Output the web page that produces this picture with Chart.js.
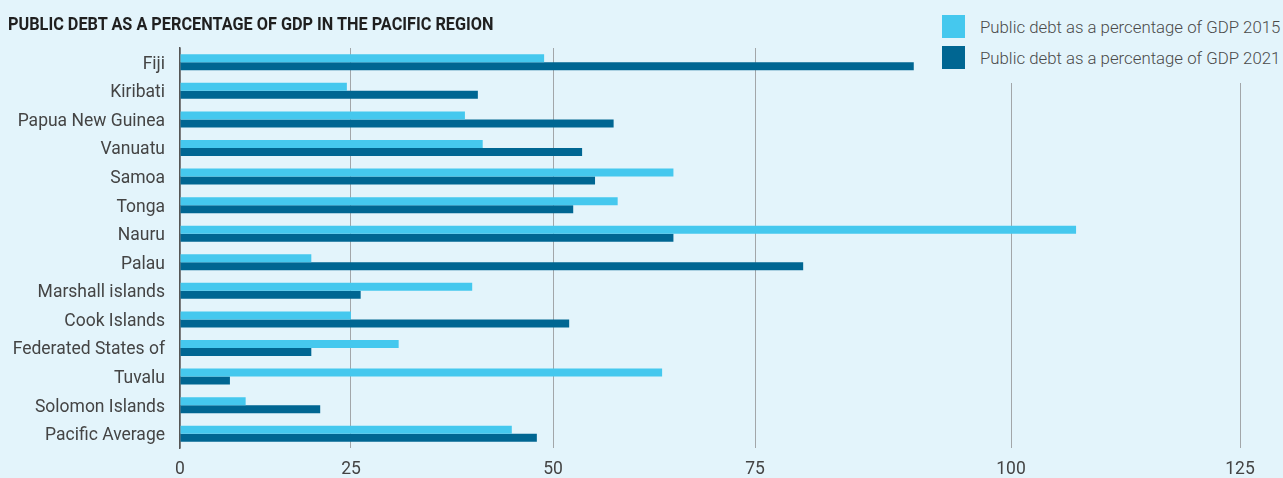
<!DOCTYPE html>
<html lang="en">
<head>
  <meta charset="UTF-8">
  <title>Public debt in the Pacific region</title>
  <style>
    body {
      margin: 0;
      background: #e3f4fb;
    }
    .wrap {
      position: relative;
      width: 1283px;
      height: 478px;
    }
    h1 {
      position: absolute;
      left: 8px;
      top: 12px;
      margin: 0;
      font-family: Roboto, sans-serif;
      font-weight: 700;
      font-size: 19px;
      line-height: 24px;
      color: #1f1f1f;
      white-space: nowrap;
      transform: scaleX(0.856);
      transform-origin: left center;
    }
    #legend {
      position: absolute;
      left: 940px;
      top: 0;
      width: 343px;
      height: 83px;
      padding-top: 15px;
      box-sizing: border-box;
      background: #e3f4fb;
      display: flex;
      flex-direction: column;
      gap: 8px;
      font-family: Roboto, sans-serif;
      font-weight: 300;
      font-size: 16.8px;
      color: #4a4a4a;
      white-space: nowrap;
    }
    .item {
      display: flex;
      align-items: center;
      height: 23px;
      padding-left: 2px;
    }
    .swatch {
      width: 23px;
      height: 23px;
      margin-right: 15px;
      flex: none;
    }
  </style>
</head>
<body>
  <div class="wrap">
    <canvas id="debt-chart" width="1283" height="478"></canvas>
    <h1>PUBLIC DEBT AS A PERCENTAGE OF GDP IN THE PACIFIC REGION</h1>
    <div id="legend"></div>
  </div>
  <script src="https://cdn.jsdelivr.net/npm/chart.js@4.4.9/dist/chart.umd.min.js"></script>
  <script>
    const countries = [
      'Fiji', 'Kiribati', 'Papua New Guinea', 'Vanuatu', 'Samoa', 'Tonga', 'Nauru',
      'Palau', 'Marshall islands', 'Cook Islands', 'Federated States of', 'Tuvalu',
      'Solomon Islands', 'Pacific Average'
    ]
    const debt2015 = [48.9, 24.4, 39.1, 41.3, 64.9, 58.0, 107.1, 19.2, 40.0, 25.0, 30.9, 63.5, 9.6, 44.9]
    const debt2021 = [90.5, 40.7, 57.5, 53.6, 55.2, 52.5, 64.9, 79.7, 26.2, 52.0, 19.2, 7.3, 20.5, 48.0]
    const seriesLabels = ['Public debt as a percentage of GDP 2015', 'Public debt as a percentage of GDP 2021']
    const tickValues = [0, 25, 50, 75, 100, 125]

    // the value axis is not evenly spaced: each tick sits at its own share of the axis length
    const tickStops = [0, 0.1613, 0.3519, 0.5425, 0.7840, 1]

    const LIGHT = '#45c8ee'
    const DARK = '#006692'
    const FONT = 'Roboto, sans-serif'

    function valueToDecimal(v) {
      for (let i = 1; i < tickValues.length; i++) {
        if (v <= tickValues[i] || i === tickValues.length - 1) {
          const a = tickValues[i - 1], b = tickValues[i]
          const t = (v - a) / (b - a)
          return tickStops[i - 1] + t * (tickStops[i] - tickStops[i - 1])
        }
      }
      return 0
    }

    function decimalToValue(d) {
      for (let i = 1; i < tickStops.length; i++) {
        if (d <= tickStops[i] || i === tickStops.length - 1) {
          const t = (d - tickStops[i - 1]) / (tickStops[i] - tickStops[i - 1])
          return tickValues[i - 1] + t * (tickValues[i] - tickValues[i - 1])
        }
      }
      return 0
    }

    class SegmentedScale extends Chart.LinearScale {
      getPixelForValue(value) {
        if (value === null || isNaN(value)) return NaN
        return this.getPixelForDecimal(valueToDecimal(value))
      }
      getValueForPixel(pixel) {
        return decimalToValue(this.getDecimalForPixel(pixel))
      }
    }
    SegmentedScale.id = 'segmented'
    SegmentedScale.defaults = Chart.LinearScale.defaults
    Chart.register(SegmentedScale)

    const colors = [LIGHT, DARK]

    new Chart(document.getElementById('debt-chart'), {
      type: 'bar',
      data: {
        labels: countries,
        datasets: [
          { label: seriesLabels[0], data: debt2015, backgroundColor: LIGHT },
          { label: seriesLabels[1], data: debt2021, backgroundColor: DARK }
        ]
      },
      options: {
        indexAxis: 'y',
        responsive: false,
        devicePixelRatio: 1,
        animation: false,
        categoryPercentage: 0.56,
        barPercentage: 1,
        layout: { padding: { left: 8, right: 43, top: 48, bottom: 0 } },
        plugins: {
          legend: { display: false },
          tooltip: { enabled: false }
        },
        scales: {
          x: {
            type: 'segmented',
            min: 0,
            max: 125,
            afterBuildTicks: scale => {
              scale.ticks = tickValues.map(v => ({ value: v }))
            },
            afterFit: scale => { scale.height = 30 },
            grid: { color: '#a2a6a9', lineWidth: 1, drawTicks: false },
            border: { display: false },
            ticks: {
              padding: 11,
              color: '#444',
              maxRotation: 0,
              autoSkip: false,
              font: { family: FONT, size: 17.5 }
            }
          },
          y: {
            afterFit: scale => { scale.width = 172 },
            grid: { display: false, drawTicks: false },
            border: { display: true, color: '#555', width: 1.5 },
            ticks: {
              padding: 15,
              labelOffset: 2,
              color: '#444',
              autoSkip: false,
              font: { family: FONT, size: 17.5 }
            }
          }
        }
      }
    })

    // legend sits over the top right corner of the plot
    const legend = document.getElementById('legend')
    seriesLabels.forEach((label, i) => {
      const item = document.createElement('div')
      item.className = 'item'
      item.innerHTML = `<span class="swatch" style="background:${colors[i]}"></span><span>${label}</span>`
      legend.appendChild(item)
    })
  </script>
</body>
</html>
